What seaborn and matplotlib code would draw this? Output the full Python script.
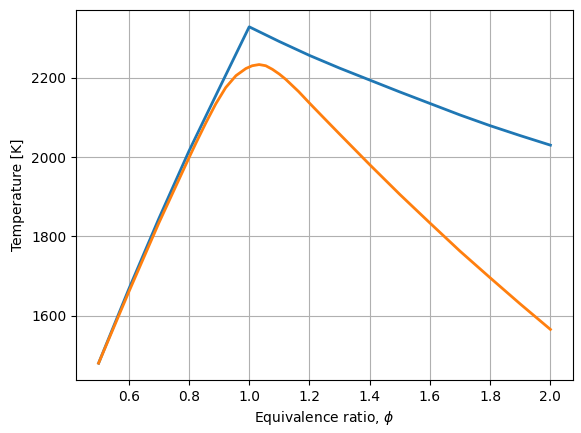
import matplotlib
matplotlib.use("Agg")
import matplotlib.pyplot as plt
import seaborn as sns
import pandas as pd

# Blue series (complete combustion)
phi_blue = [0.5, 0.6, 0.7, 0.8, 0.9, 1.0, 1.1, 1.2, 1.3, 1.4, 1.5, 1.6, 1.7, 1.8, 1.9, 2.0]
T_blue = [1481, 1667, 1845, 2015, 2172, 2328, 2291, 2256, 2224, 2194, 2164, 2135, 2106, 2079, 2054, 2030]

# Orange series (equilibrium)
phi_orange = [0.5, 0.6, 0.7, 0.8, 0.823, 0.856, 0.889, 0.922, 0.956, 0.989, 1.01, 1.033,
              1.055, 1.077, 1.1, 1.121, 1.164, 1.2, 1.246, 1.3, 1.4, 1.5, 1.6, 1.7,
              1.8, 1.9, 2.0]
T_orange = [1481, 1660, 1834, 1998, 2035, 2086, 2134, 2175, 2205, 2223, 2230, 2233,
            2230, 2221, 2209, 2196, 2165, 2136, 2100, 2058, 1981, 1906, 1834, 1763,
            1696, 1630, 1566]

fig = plt.figure(figsize=(5.81, 4.33), dpi=100)
ax = fig.add_axes([76/581, 1-380/433, 497/581, 370/433])

df_b = pd.DataFrame({"phi": phi_blue, "T": T_blue})
df_o = pd.DataFrame({"phi": phi_orange, "T": T_orange})
sns.lineplot(data=df_b, x="phi", y="T", ax=ax, color="#1f77b4", linewidth=2)
sns.lineplot(data=df_o, x="phi", y="T", ax=ax, color="#ff7f0e", linewidth=2)

ax.set_xlabel(r"Equivalence ratio, $\phi$")
ax.set_ylabel("Temperature [K]")
ax.set_xticks([0.6, 0.8, 1.0, 1.2, 1.4, 1.6, 1.8, 2.0])
ax.set_yticks([1600, 1800, 2000, 2200])
ax.grid(True)

fig.savefig("out.png", dpi=100)
